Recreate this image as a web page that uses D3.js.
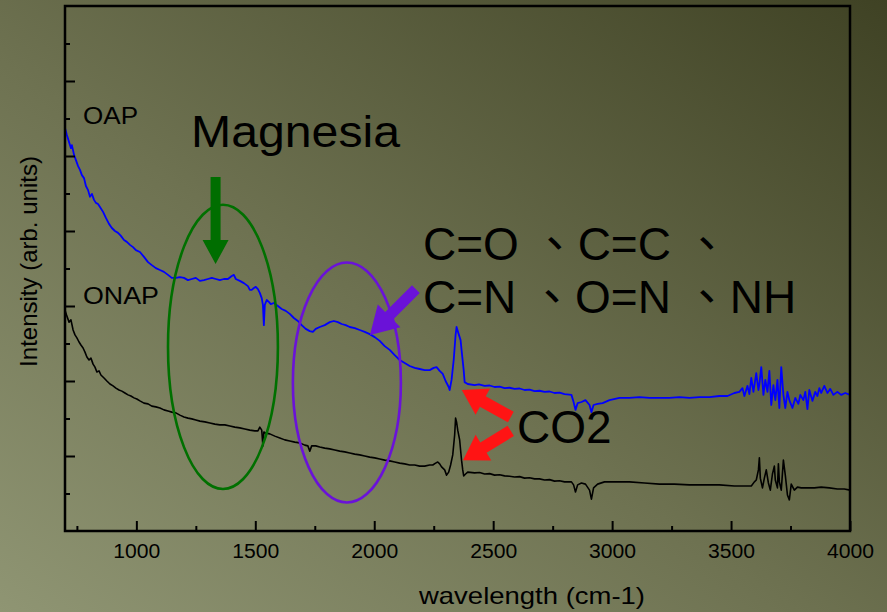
<!DOCTYPE html>
<html>
<head>
<meta charset="utf-8">
<script src="https://cdn.jsdelivr.net/npm/d3@7"></script>
<style>
html,body{margin:0;padding:0;overflow:hidden;background:#6b6e4e}
svg{display:block}
</style>
</head>
<body>
<svg id="chart" width="887" height="612"></svg>
<script>
// ---------------- DATA ----------------
const seriesNames = ["OAP", "ONAP"];

// OAP spectrum: [wavenumber (cm-1), intensity (arb. units)]
const oapSpectrum = [
[700,10.75],[708,10.56],[717,10.37],[725,10.21],[729,10.29],[738,10.03],[746,9.89],[755,9.73],[763,9.63],[771,9.49],
[780,9.41],[788,9.20],[797,9.09],[805,8.91],[813,8.99],[822,8.83],[830,8.75],[839,8.72],[847,8.64],[860,8.51],
[872,8.35],[885,8.19],[897,8.08],[910,8.00],[923,7.95],[935,7.87],[948,7.76],[960,7.71],[973,7.63],[986,7.57],
[998,7.49],[1015,7.44],[1032,7.31],[1049,7.17],[1065,7.09],[1082,7.01],[1099,6.96],[1116,6.91],[1133,6.83],[1149,6.75],
[1166,6.75],[1183,6.77],[1200,6.75],[1217,6.69],[1233,6.72],[1250,6.75],[1267,6.67],[1284,6.69],[1301,6.72],[1317,6.75],
[1334,6.72],[1351,6.69],[1368,6.72],[1385,6.72],[1401,6.80],[1410,6.83],[1418,6.72],[1435,6.67],[1452,6.61],[1469,6.53],
[1477,6.43],[1485,6.43],[1494,6.48],[1502,6.51],[1511,6.45],[1519,6.35],[1527,6.21],[1532,6.03],[1536,5.49],[1540,6.03],
[1548,6.16],[1557,6.11],[1565,6.05],[1578,6.08],[1595,6.00],[1611,5.92],[1628,5.87],[1645,5.79],[1662,5.68],[1679,5.60],
[1695,5.49],[1712,5.39],[1729,5.33],[1742,5.31],[1754,5.39],[1771,5.44],[1792,5.49],[1813,5.57],[1830,5.60],[1847,5.57],
[1863,5.52],[1880,5.49],[1897,5.44],[1918,5.41],[1939,5.36],[1960,5.31],[1981,5.25],[2002,5.17],[2023,5.07],[2044,4.93],
[2065,4.83],[2086,4.69],[2107,4.56],[2128,4.48],[2149,4.40],[2170,4.35],[2191,4.32],[2212,4.29],[2233,4.29],[2250,4.35],
[2262,4.37],[2275,4.27],[2288,4.19],[2300,4.00],[2313,3.84],[2317,3.76],[2325,4.03],[2334,4.56],[2342,5.23],[2346,5.44],
[2355,5.25],[2363,5.09],[2367,4.83],[2376,4.29],[2380,3.97],[2393,3.92],[2422,3.89],[2440,3.91],[2464,3.87],[2485,3.88],
[2506,3.84],[2527,3.85],[2548,3.81],[2569,3.82],[2590,3.79],[2611,3.80],[2632,3.76],[2653,3.77],[2674,3.73],[2695,3.74],
[2716,3.71],[2737,3.72],[2758,3.68],[2779,3.69],[2800,3.65],[2829,3.63],[2838,3.44],[2846,3.23],[2855,3.41],[2871,3.44],
[2888,3.49],[2905,3.36],[2913,3.17],[2922,3.36],[2939,3.39],[2960,3.41],[2989,3.49],[3031,3.55],[3073,3.55],[3115,3.57],
[3157,3.55],[3199,3.55],[3241,3.55],[3283,3.57],[3325,3.55],[3367,3.57],[3409,3.57],[3451,3.60],[3485,3.60],[3514,3.68],
[3535,3.71],[3548,3.81],[3556,3.60],[3569,3.87],[3577,3.65],[3585,4.08],[3594,3.71],[3606,4.21],[3615,3.76],[3619,3.92],
[3627,4.37],[3636,3.63],[3644,4.03],[3653,3.71],[3661,4.27],[3669,3.36],[3678,3.89],[3686,3.49],[3695,4.03],[3703,3.28],
[3711,4.37],[3720,3.63],[3728,3.28],[3737,3.71],[3745,3.49],[3758,3.28],[3770,3.55],[3783,3.39],[3791,3.63],[3804,3.49],
[3812,3.71],[3821,3.25],[3829,3.76],[3842,3.47],[3854,3.71],[3863,3.60],[3871,3.81],[3879,3.68],[3892,3.87],[3905,3.68],
[3917,3.79],[3930,3.63],[3947,3.71],[3963,3.63],[3980,3.68],[4000,3.63]
];

// ONAP spectrum: [wavenumber (cm-1), intensity (arb. units)]
const onapSpectrum = [
[700,5.89],[708,5.73],[717,5.57],[725,5.63],[734,5.36],[742,5.23],[750,5.15],[759,5.04],[767,4.96],[776,4.88],
[784,4.77],[792,4.64],[801,4.56],[809,4.61],[818,4.45],[826,4.37],[834,4.24],[843,4.27],[851,4.16],[864,4.08],
[876,4.00],[889,3.92],[902,3.87],[914,3.81],[927,3.76],[939,3.73],[952,3.68],[965,3.63],[977,3.60],[990,3.55],
[1002,3.52],[1015,3.47],[1032,3.41],[1049,3.39],[1065,3.33],[1082,3.31],[1099,3.28],[1116,3.23],[1133,3.20],[1149,3.17],
[1166,3.15],[1183,3.09],[1200,3.04],[1217,3.01],[1233,2.99],[1250,2.96],[1267,2.93],[1288,2.91],[1309,2.88],[1330,2.85],
[1351,2.83],[1372,2.83],[1393,2.80],[1414,2.77],[1435,2.75],[1456,2.72],[1477,2.69],[1498,2.67],[1511,2.67],[1519,2.77],
[1527,2.69],[1532,2.27],[1536,2.64],[1544,2.61],[1561,2.59],[1582,2.53],[1603,2.48],[1624,2.43],[1645,2.40],[1666,2.37],
[1687,2.35],[1708,2.29],[1721,2.27],[1729,2.13],[1737,2.27],[1754,2.27],[1771,2.24],[1792,2.21],[1813,2.19],[1834,2.16],
[1855,2.13],[1876,2.11],[1897,2.08],[1918,2.05],[1939,2.03],[1960,2.00],[1981,1.97],[2002,1.95],[2023,1.92],[2044,1.89],
[2065,1.87],[2086,1.84],[2107,1.81],[2128,1.79],[2149,1.76],[2170,1.76],[2191,1.73],[2212,1.73],[2233,1.76],[2246,1.76],
[2258,1.81],[2267,1.84],[2275,1.79],[2283,1.71],[2296,1.63],[2304,1.49],[2313,1.57],[2321,1.76],[2330,2.03],[2338,2.56],
[2342,3.01],[2346,2.91],[2351,2.69],[2359,2.43],[2363,2.16],[2367,1.89],[2372,1.63],[2376,1.47],[2384,1.52],[2393,1.57],
[2422,1.55],[2443,1.56],[2464,1.52],[2485,1.53],[2506,1.49],[2527,1.50],[2548,1.47],[2569,1.46],[2590,1.44],[2611,1.45],
[2632,1.41],[2653,1.42],[2674,1.39],[2695,1.39],[2716,1.36],[2737,1.37],[2758,1.33],[2779,1.34],[2800,1.31],[2829,1.31],
[2838,1.23],[2846,1.04],[2855,1.23],[2871,1.28],[2888,1.25],[2905,1.09],[2913,0.85],[2922,1.15],[2939,1.25],[2968,1.31],
[3010,1.31],[3073,1.31],[3136,1.28],[3199,1.25],[3262,1.25],[3325,1.23],[3388,1.23],[3451,1.23],[3514,1.20],[3556,1.20],
[3585,1.20],[3598,1.31],[3606,1.36],[3615,1.63],[3619,1.95],[3623,1.41],[3632,1.15],[3640,1.41],[3648,1.63],[3657,1.28],
[3665,1.09],[3674,1.52],[3682,1.73],[3686,1.36],[3695,1.15],[3699,1.79],[3703,1.31],[3711,1.09],[3720,1.89],[3728,1.49],
[3737,0.96],[3745,0.83],[3753,1.25],[3766,1.09],[3779,1.17],[3795,1.15],[3821,1.15],[3850,1.15],[3879,1.17],[3913,1.15],
[3947,1.12],[3976,1.12],[4000,1.09]
];

const xDomain = [700, 4000];
const yDomain = [0, 14];
const xMajorTicks = [1000, 1500, 2000, 2500, 3000, 3500, 4000];
const xMinorTicks = [750, 1250, 1750, 2250, 2750, 3250, 3750];
const yMajorTicks = [2, 4, 6, 8, 10, 12];
const yMinorTicks = [1, 3, 5, 7, 9, 11, 13];

const xTitle = "wavelength (cm-1)";
const yTitle = "Intensity (arb. units)";
const magnesiaLabel = "Magnesia";
const bondLines = ["C=O \u3001C=C \u3001", "C=N \u3001O=N \u3001NH"];
const co2Label = "CO2";

// annotation anchors in data units [wavenumber, intensity]
const magnesiaEllipse = {c: [1364, 4.91], r: [231, 3.79]};
const bondEllipse = {c: [1885, 3.96], r: [227, 3.20]};
const magnesiaArrow = {from: [1333, 9.44], to: [1333, 7.12]};
const bondArrow = {from: [2175, 6.45], to: [1982, 5.23]};
const co2Arrows = [{from: [2574, 3.04], to: [2368, 3.76]}, {from: [2574, 2.67], to: [2373, 1.89]}];

// ---------------- CHART ----------------
const W = 887, H = 612;
const m = {left: 65, right: 850, top: 6, bottom: 531};
const svg = d3.select("#chart");
const FONT = "'Liberation Sans', Arial, Helvetica, sans-serif";

const defs = svg.append("defs");
const grad = defs.append("linearGradient").attr("id", "bg")
  .attr("x1", "0").attr("y1", "1").attr("x2", "1").attr("y2", "0");
grad.append("stop").attr("offset", "0%").attr("stop-color", "#8f9573");
grad.append("stop").attr("offset", "45%").attr("stop-color", "#6e7251");
grad.append("stop").attr("offset", "100%").attr("stop-color", "#3f4224");
svg.append("rect").attr("width", W).attr("height", H).attr("fill", "url(#bg)");

const x = d3.scaleLinear().domain(xDomain).range([m.left, m.right]);
const y = d3.scaleLinear().domain(yDomain).range([m.bottom, m.top]);

// spectra
const line = d3.line().x(d => x(d[0])).y(d => y(d[1]));
svg.append("path").datum(oapSpectrum).attr("d", line)
  .attr("fill", "none").attr("stroke", "#0000ff").attr("stroke-width", 1.8).attr("stroke-linejoin", "round");
svg.append("path").datum(onapSpectrum).attr("d", line)
  .attr("fill", "none").attr("stroke", "#000000").attr("stroke-width", 1.6).attr("stroke-linejoin", "round");

// axes
function styleAxis(g) {
  g.select(".domain").remove();
  g.selectAll(".tick line").attr("stroke", "#000").attr("stroke-width", 2);
}
const gx = svg.append("g").attr("transform", `translate(0,${m.bottom})`)
  .call(d3.axisBottom(x).tickValues(xMajorTicks).tickSizeInner(-10).tickSizeOuter(0).tickPadding(13).tickFormat(d3.format("d")));
styleAxis(gx);
gx.selectAll(".tick text").attr("fill", "#000").attr("font-family", FONT).attr("font-size", 20)
  .attr("textLength", 47).attr("lengthAdjust", "spacingAndGlyphs");
const gxm = svg.append("g").attr("transform", `translate(0,${m.bottom})`)
  .call(d3.axisBottom(x).tickValues(xMinorTicks).tickSizeInner(-5).tickSizeOuter(0).tickFormat(""));
styleAxis(gxm);
const gy = svg.append("g").attr("transform", `translate(${m.left},0)`)
  .call(d3.axisLeft(y).tickValues(yMajorTicks).tickSizeInner(-10).tickSizeOuter(0).tickFormat(""));
styleAxis(gy);
const gym = svg.append("g").attr("transform", `translate(${m.left},0)`)
  .call(d3.axisLeft(y).tickValues(yMinorTicks).tickSizeInner(-5).tickSizeOuter(0).tickFormat(""));
styleAxis(gym);

// frame
svg.append("rect").attr("x", m.left).attr("y", m.top)
  .attr("width", m.right - m.left).attr("height", m.bottom - m.top)
  .attr("fill", "none").attr("stroke", "#000").attr("stroke-width", 2.5);

// axis titles
svg.append("text").attr("x", 419).attr("y", 604).attr("font-family", FONT).attr("font-size", 24)
  .attr("fill", "#000").attr("textLength", 226).attr("lengthAdjust", "spacingAndGlyphs").text(xTitle);
svg.append("text").attr("transform", "translate(37,261.5) rotate(-90)").attr("text-anchor", "middle")
  .attr("font-family", FONT).attr("font-size", 24).attr("fill", "#000").text(yTitle);

// series labels
svg.append("text").attr("x", 83).attr("y", 124).attr("font-family", FONT).attr("font-size", 24)
  .attr("fill", "#000").attr("textLength", 55).attr("lengthAdjust", "spacingAndGlyphs").text(seriesNames[0]);
svg.append("text").attr("x", 83).attr("y", 304).attr("font-family", FONT).attr("font-size", 24)
  .attr("fill", "#000").attr("textLength", 76).attr("lengthAdjust", "spacingAndGlyphs").text(seriesNames[1]);

// ellipses
function ellipse(e, color) {
  svg.append("ellipse")
    .attr("cx", x(e.c[0])).attr("cy", y(e.c[1]))
    .attr("rx", x(e.c[0] + e.r[0]) - x(e.c[0])).attr("ry", y(e.c[1]) - y(e.c[1] + e.r[1]))
    .attr("fill", "none").attr("stroke", color).attr("stroke-width", 2.6);
}
ellipse(magnesiaEllipse, "#007000");
ellipse(bondEllipse, "#6a12d8");

// arrows
function arrow(a, color, shaftW, headW, headL) {
  const x0 = x(a.from[0]), y0 = y(a.from[1]), x1 = x(a.to[0]), y1 = y(a.to[1]);
  const dx = x1 - x0, dy = y1 - y0, L = Math.hypot(dx, dy);
  const ux = dx / L, uy = dy / L, px = -uy, py = ux;
  const bx = x1 - ux * headL, by = y1 - uy * headL;
  const s = shaftW / 2, h = headW / 2;
  const pts = [
    [x0 + px * s, y0 + py * s], [bx + px * s, by + py * s], [bx + px * h, by + py * h],
    [x1, y1],
    [bx - px * h, by - py * h], [bx - px * s, by - py * s], [x0 - px * s, y0 - py * s]
  ];
  svg.append("path").attr("d", "M" + pts.map(p => p.join(",")).join("L") + "Z").attr("fill", color);
}
arrow(magnesiaArrow, "#006e00", 10, 26, 24);
arrow(bondArrow, "#6a12d8", 11, 32, 27);
co2Arrows.forEach(a => arrow(a, "#ff1414", 12, 30, 24));

// annotation texts
svg.append("text").attr("x", 191).attr("y", 147).attr("font-family", FONT).attr("font-size", 44)
  .attr("fill", "#000").attr("textLength", 209).attr("lengthAdjust", "spacingAndGlyphs").text(magnesiaLabel);
const CJKFONT = "'Liberation Sans', Arial, 'Noto Sans CJK TC', sans-serif";
bondLines.forEach((t, i) => {
  svg.append("text").attr("x", 423).attr("y", 260 + i * 53).attr("font-family", CJKFONT)
    .attr("font-size", 46).attr("fill", "#000").text(t);
});
svg.append("text").attr("x", 517).attr("y", 443).attr("font-family", FONT).attr("font-size", 46)
  .attr("fill", "#000").text(co2Label);
</script>
</body>
</html>
